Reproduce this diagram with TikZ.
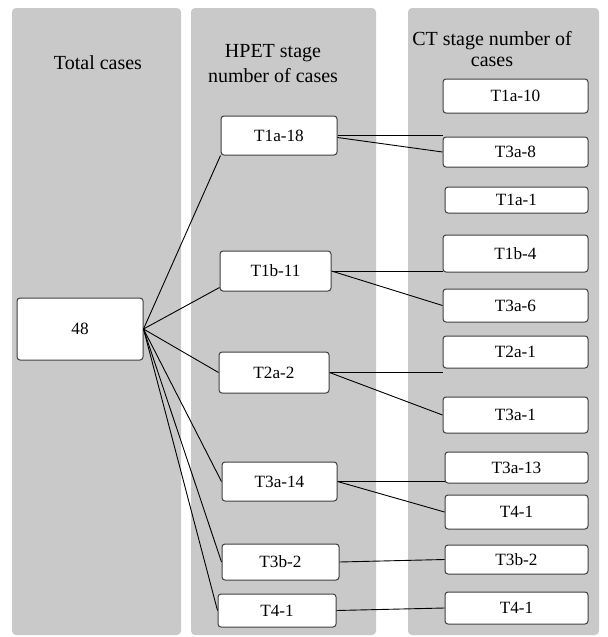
\documentclass[tikz,border=0pt]{standalone}
\usepackage{fontspec}
\setmainfont{Liberation Serif}
\definecolor{panelgray}{RGB}{201,201,201}
\begin{document}
\begin{tikzpicture}[x=0.5pt,y=-0.5pt,
		panel/.style={fill=panelgray, draw=none, rounded corners=2pt},
		stagebox/.style={draw=black!75, fill=white, rounded corners=1.5pt, inner sep=0pt, line width=0.5pt, font=\rmfamily\fontsize{8.6}{10}\selectfont},
		link/.style={draw=black, line width=0.45pt}]
		\useasboundingbox (0,0) rectangle (607,637);
		%panels
		\fill[panel] (12,8) rectangle (181,635);
		\fill[panel] (191,8) rectangle (376,635);
		\fill[panel] (408,8) rectangle (599,635);
		%headings
		\node[font=\rmfamily\fontsize{10}{12}\selectfont] (head1) at (98,63) {Total cases};
		\node[align=center, font=\rmfamily\fontsize{10}{12.5}\selectfont] (head2) at (273,64) {HPET stage\\number of cases};
		\node[align=center, font=\rmfamily\fontsize{10}{10.5}\selectfont] (head3) at (492,49) {CT stage number of\\cases};
		%total
		\node[stagebox, minimum width=63pt, minimum height=31pt] (total) at (80,329) {48};
		%HPET stage
		\node[stagebox, minimum width=58pt, minimum height=19.5pt] (h1a) at (279,135.5) {T1a-18};
		\node[stagebox, minimum width=55.5pt, minimum height=20pt] (h1b) at (275.5,271) {T1b-11};
		\node[stagebox, minimum width=55pt, minimum height=20.5pt] (h2a) at (274,372.5) {T2a-2};
		\node[stagebox, minimum width=57.5pt, minimum height=19.5pt] (h3a) at (279.5,481.5) {T3a-14};
		\node[stagebox, minimum width=58.5pt, minimum height=18pt] (h3b) at (280.5,562) {T3b-2};
		\node[stagebox, minimum width=59pt, minimum height=16.5pt] (h4) at (277,610.5) {T4-1};
		%CT stage
		\node[stagebox, minimum width=72.5pt, minimum height=17pt] (c1a) at (515.5,96) {T1a-10};
		\node[stagebox, minimum width=72.5pt, minimum height=15pt] (c3a8) at (515.5,152) {T3a-8};
		\node[stagebox, minimum width=71.5pt, minimum height=13pt] (c1a1) at (516.5,200) {T1a-1};
		\node[stagebox, minimum width=72.5pt, minimum height=18.5pt] (c1b) at (515.5,253.5) {T1b-4};
		\node[stagebox, minimum width=72.5pt, minimum height=16.5pt] (c3a6) at (515.5,305.5) {T3a-6};
		\node[stagebox, minimum width=72.5pt, minimum height=16pt] (c2a) at (515.5,352) {T2a-1};
		\node[stagebox, minimum width=72.5pt, minimum height=18pt] (c3a1) at (515.5,415) {T3a-1};
		\node[stagebox, minimum width=71.5pt, minimum height=15.5pt] (c3a13) at (516.5,467.5) {T3a-13};
		\node[stagebox, minimum width=71.5pt, minimum height=17pt] (c4a) at (516.5,512) {T4-1};
		\node[stagebox, minimum width=71.5pt, minimum height=14.5pt] (c3b) at (516.5,559.5) {T3b-2};
		\node[stagebox, minimum width=71.5pt, minimum height=16pt] (c4b) at (516.5,608) {T4-1};
		%links from total
		\draw[link] (total.east) -- (h1a.south west);
		\draw[link] (total.east) -- ([yshift=2pt]h1b.south west);
		\draw[link] (total.east) -- (h2a.west);
		\draw[link] (total.east) -- (h3a.west);
		\draw[link] (total.east) -- (h3b.west);
		\draw[link] (total.east) -- (h4.west);
		%links to CT stage
		\draw[link] (h1a.east) -- (h1a.east -| c3a8.west);
		\draw[link] ([yshift=-1pt]h1a.east) -- (c3a8.west);
		\draw[link] (h1b.east) -- (h1b.east -| c1b.west);
		\draw[link] (h1b.east) -- (c3a6.west);
		\draw[link] (h2a.east) -- (h2a.east -| c2a.west);
		\draw[link] (h2a.east) -- (c3a1.west);
		\draw[link] (h3a.east) -- (h3a.east -| c3a13.west);
		\draw[link] (h3a.east) -- (c4a.west);
		\draw[link] (h3b.east) -- (c3b.west);
		\draw[link] (h4.east) -- (c4b.west);
	\end{tikzpicture}
\end{document}
